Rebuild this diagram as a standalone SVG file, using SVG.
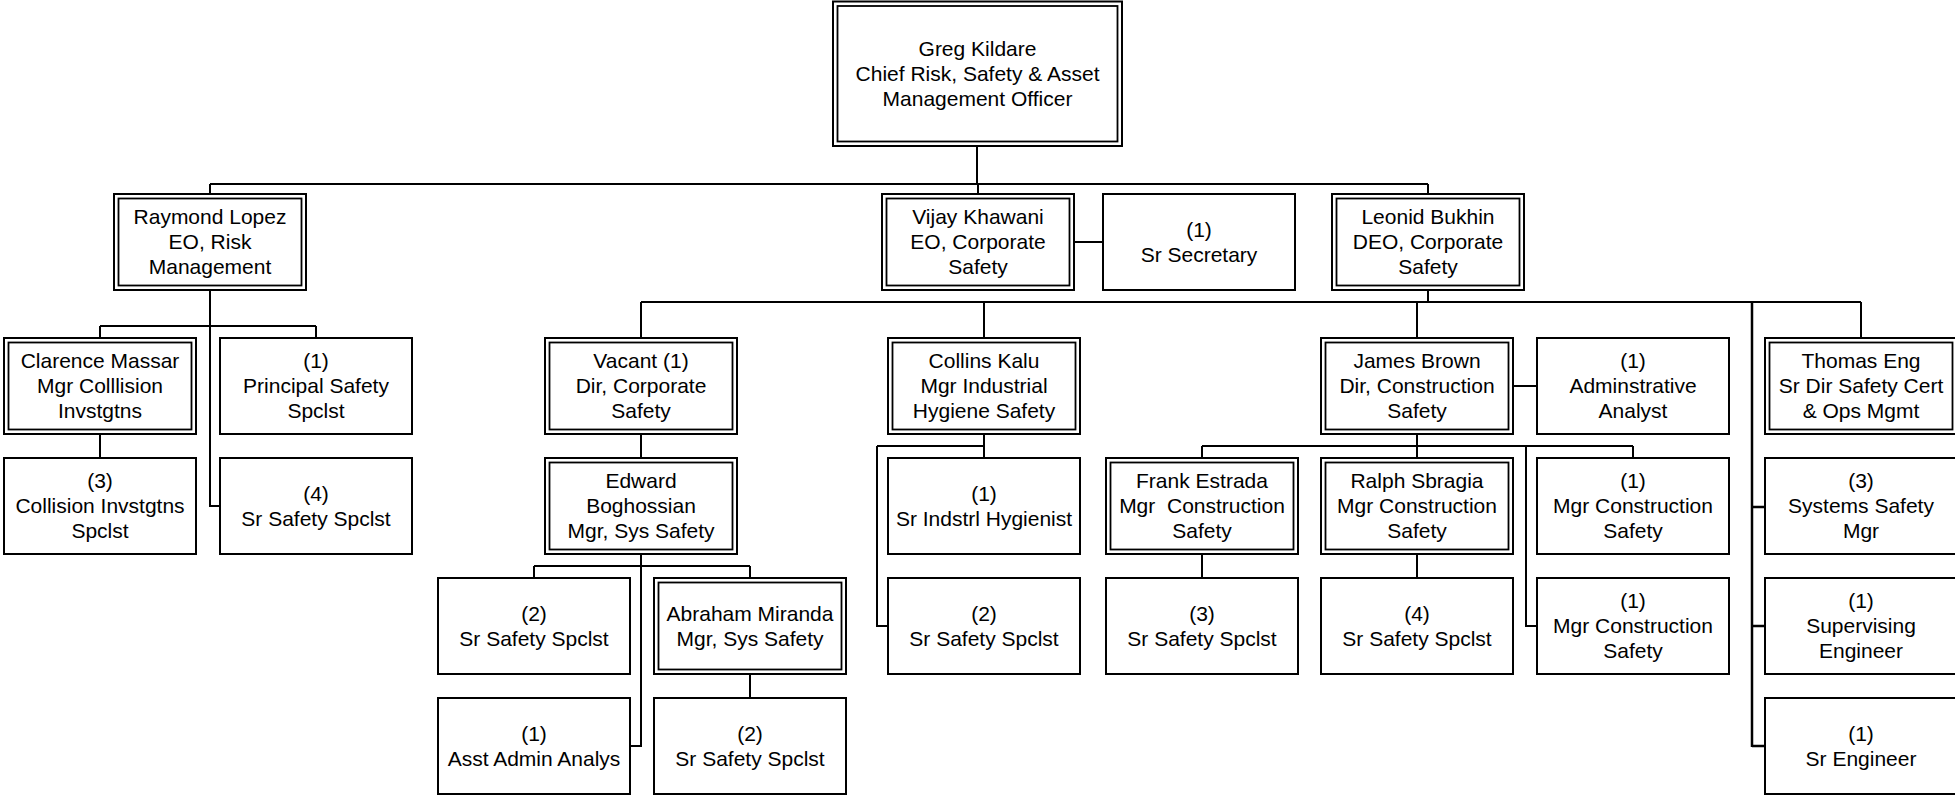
<svg xmlns="http://www.w3.org/2000/svg" width="1955" height="796" viewBox="0 0 1955 796">
<style>
.b{fill:#fff;stroke:#000;stroke-width:2}
.i{fill:none;stroke:#000;stroke-width:1.8}
.c{fill:none;stroke:#000;stroke-width:2}
text{font-family:"Liberation Sans",Arial,sans-serif;font-size:21px;fill:#000;text-anchor:middle;white-space:pre}
</style>
<rect width="1955" height="796" fill="#fff"/>
<g id="connectors">
<path class="c" d="M977 146V184M210 184H1428M210 184V194M978 184V194M1428 184V194M1074 242H1103"/>
<path class="c" d="M210 290V506H220M100 326H316M100 326V338M316 326V338M100 434V458"/>
<path class="c" d="M1428 290V302M641 302H1861M641 302V338M984 302V338M1417 302V338M1861 302V338"/>
<path class="c" d="M1752 302V747M1752 507H1765M1752 626H1765M1752 746H1765" style="stroke-width:2.5"/>
<path class="c" d="M641 434V458M641 554V746H630M534 566H750M534 566V578M750 566V578M750 674V698"/>
<path class="c" d="M984 434V458M877 446H984M877 446V626H888"/>
<path class="c" d="M1417 434V446M1202 446H1633M1202 446V458M1417 446V458M1633 446V458M1526 446V626H1537M1513 386H1537M1202 554V578M1417 554V578"/>
</g>
<g id="greg"><rect class="b" x="833" y="1.5" width="289" height="144.5"/><rect class="i" x="837.5" y="6" width="280" height="135.5"/><text x="977.5" y="56">Greg Kildare</text><text x="977.5" y="81">Chief Risk, Safety &amp; Asset</text><text x="977.5" y="106">Management Officer</text></g>
<g id="raymond"><rect class="b" x="114" y="194" width="192" height="96"/><rect class="i" x="118.5" y="198.5" width="183" height="87"/><text x="210" y="224">Raymond Lopez</text><text x="210" y="249">EO, Risk</text><text x="210" y="274">Management</text></g>
<g id="vijay"><rect class="b" x="882" y="194" width="192" height="96"/><rect class="i" x="886.5" y="198.5" width="183" height="87"/><text x="978" y="224">Vijay Khawani</text><text x="978" y="249">EO, Corporate</text><text x="978" y="274">Safety</text></g>
<g id="secretary"><rect class="b" x="1103" y="194" width="192" height="96"/><text x="1199" y="237">(1)</text><text x="1199" y="262">Sr Secretary</text></g>
<g id="leonid"><rect class="b" x="1332" y="194" width="192" height="96"/><rect class="i" x="1336.5" y="198.5" width="183" height="87"/><text x="1428" y="224">Leonid Bukhin</text><text x="1428" y="249">DEO, Corporate</text><text x="1428" y="274">Safety</text></g>
<g id="clarence"><rect class="b" x="4" y="338" width="192" height="96"/><rect class="i" x="8.5" y="342.5" width="183" height="87"/><text x="100" y="368">Clarence Massar</text><text x="100" y="393">Mgr Colllision</text><text x="100" y="418">Invstgtns</text></g>
<g id="principal"><rect class="b" x="220" y="338" width="192" height="96"/><text x="316" y="368">(1)</text><text x="316" y="393">Principal Safety</text><text x="316" y="418">Spclst</text></g>
<g id="vacant"><rect class="b" x="545" y="338" width="192" height="96"/><rect class="i" x="549.5" y="342.5" width="183" height="87"/><text x="641" y="368">Vacant (1)</text><text x="641" y="393">Dir, Corporate</text><text x="641" y="418">Safety</text></g>
<g id="collins"><rect class="b" x="888" y="338" width="192" height="96"/><rect class="i" x="892.5" y="342.5" width="183" height="87"/><text x="984" y="368">Collins Kalu</text><text x="984" y="393">Mgr Industrial</text><text x="984" y="418">Hygiene Safety</text></g>
<g id="james"><rect class="b" x="1321" y="338" width="192" height="96"/><rect class="i" x="1325.5" y="342.5" width="183" height="87"/><text x="1417" y="368">James Brown</text><text x="1417" y="393">Dir, Construction</text><text x="1417" y="418">Safety</text></g>
<g id="admin"><rect class="b" x="1537" y="338" width="192" height="96"/><text x="1633" y="368">(1)</text><text x="1633" y="393">Adminstrative</text><text x="1633" y="418">Analyst</text></g>
<g id="thomas"><rect class="b" x="1765" y="338" width="192" height="96"/><rect class="i" x="1769.5" y="342.5" width="183" height="87"/><text x="1861" y="368">Thomas Eng</text><text x="1861" y="393">Sr Dir Safety Cert</text><text x="1861" y="418">&amp; Ops Mgmt</text></g>
<g id="collision"><rect class="b" x="4" y="458" width="192" height="96"/><text x="100" y="488">(3)</text><text x="100" y="513">Collision Invstgtns</text><text x="100" y="538">Spclst</text></g>
<g id="srsafety4a"><rect class="b" x="220" y="458" width="192" height="96"/><text x="316" y="501">(4)</text><text x="316" y="526">Sr Safety Spclst</text></g>
<g id="edward"><rect class="b" x="545" y="458" width="192" height="96"/><rect class="i" x="549.5" y="462.5" width="183" height="87"/><text x="641" y="488">Edward</text><text x="641" y="513">Boghossian</text><text x="641" y="538">Mgr, Sys Safety</text></g>
<g id="hygienist"><rect class="b" x="888" y="458" width="192" height="96"/><text x="984" y="501">(1)</text><text x="984" y="526">Sr Indstrl Hygienist</text></g>
<g id="frank"><rect class="b" x="1106" y="458" width="192" height="96"/><rect class="i" x="1110.5" y="462.5" width="183" height="87"/><text x="1202" y="488">Frank Estrada</text><text x="1202" y="513">Mgr  Construction</text><text x="1202" y="538">Safety</text></g>
<g id="ralph"><rect class="b" x="1321" y="458" width="192" height="96"/><rect class="i" x="1325.5" y="462.5" width="183" height="87"/><text x="1417" y="488">Ralph Sbragia</text><text x="1417" y="513">Mgr Construction</text><text x="1417" y="538">Safety</text></g>
<g id="mgrc1"><rect class="b" x="1537" y="458" width="192" height="96"/><text x="1633" y="488">(1)</text><text x="1633" y="513">Mgr Construction</text><text x="1633" y="538">Safety</text></g>
<g id="systems"><rect class="b" x="1765" y="458" width="192" height="96"/><text x="1861" y="488">(3)</text><text x="1861" y="513">Systems Safety</text><text x="1861" y="538">Mgr</text></g>
<g id="sr2a"><rect class="b" x="438" y="578" width="192" height="96"/><text x="534" y="621">(2)</text><text x="534" y="646">Sr Safety Spclst</text></g>
<g id="abraham"><rect class="b" x="654" y="578" width="192" height="96"/><rect class="i" x="658.5" y="582.5" width="183" height="87"/><text x="750" y="621">Abraham Miranda</text><text x="750" y="646">Mgr, Sys Safety</text></g>
<g id="sr2b"><rect class="b" x="888" y="578" width="192" height="96"/><text x="984" y="621">(2)</text><text x="984" y="646">Sr Safety Spclst</text></g>
<g id="sr3"><rect class="b" x="1106" y="578" width="192" height="96"/><text x="1202" y="621">(3)</text><text x="1202" y="646">Sr Safety Spclst</text></g>
<g id="sr4b"><rect class="b" x="1321" y="578" width="192" height="96"/><text x="1417" y="621">(4)</text><text x="1417" y="646">Sr Safety Spclst</text></g>
<g id="mgrc2"><rect class="b" x="1537" y="578" width="192" height="96"/><text x="1633" y="608">(1)</text><text x="1633" y="633">Mgr Construction</text><text x="1633" y="658">Safety</text></g>
<g id="supervising"><rect class="b" x="1765" y="578" width="192" height="96"/><text x="1861" y="608">(1)</text><text x="1861" y="633">Supervising</text><text x="1861" y="658">Engineer</text></g>
<g id="asst"><rect class="b" x="438" y="698" width="192" height="96"/><text x="534" y="741">(1)</text><text x="534" y="766">Asst Admin Analys</text></g>
<g id="sr2c"><rect class="b" x="654" y="698" width="192" height="96"/><text x="750" y="741">(2)</text><text x="750" y="766">Sr Safety Spclst</text></g>
<g id="srengineer"><rect class="b" x="1765" y="698" width="192" height="96"/><text x="1861" y="741">(1)</text><text x="1861" y="766">Sr Engineer</text></g>
</svg>
